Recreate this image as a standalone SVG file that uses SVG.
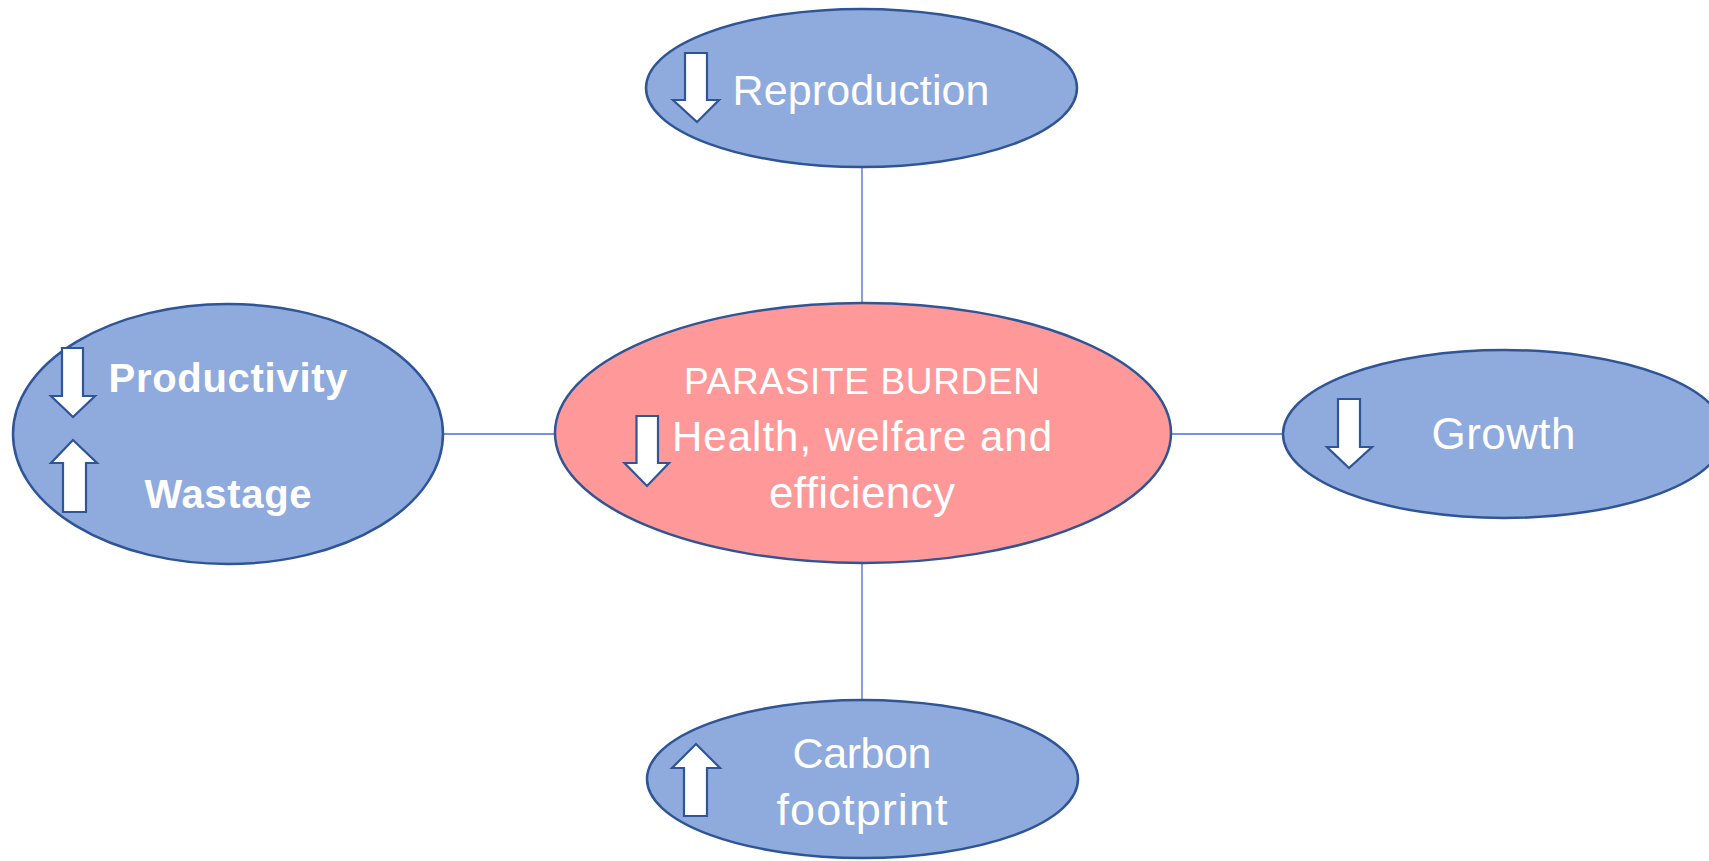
<svg xmlns="http://www.w3.org/2000/svg" width="1709" height="861" viewBox="0 0 1709 861">
  <style>
    .blue { fill: #8FAADC; stroke: #2F5597; stroke-width: 2.5; }
    .pink { fill: #FF9999; stroke: #2F5597; stroke-width: 2.5; }
    .link { stroke: #4472C4; stroke-width: 1.3; fill: none; }
    .arr { fill: #FFFFFF; stroke: #2F5597; stroke-width: 2.2; stroke-linejoin: miter; }
    .lbl { fill: #FFFFFF; font-family: "Liberation Sans", Arial, sans-serif; font-size: 42px; text-anchor: middle; }
    .bold { font-weight: bold; font-size: 40px; }
  </style>
  <rect width="1709" height="861" fill="#FFFFFF"/>

  <!-- connectors -->
  <g id="connectors">
    <line class="link" x1="862" y1="167" x2="862" y2="303"/>
    <line class="link" x1="862" y1="563" x2="862" y2="700"/>
    <line class="link" x1="442" y1="434" x2="555" y2="434"/>
    <line class="link" x1="1171" y1="434" x2="1283" y2="434"/>
  </g>

  <!-- centre node -->
  <g id="parasite-burden">
    <ellipse class="pink" cx="863" cy="433" rx="308" ry="130"/>
    <path class="arr" d="M636.5,416 H658 V463 H669 L647,486 L624.5,463 H636.5 Z"/>
    <text class="lbl" x="862" y="394" style="font-size:37px" textLength="356">PARASITE BURDEN</text>
    <text class="lbl" x="862" y="451" textLength="380">Health, welfare and</text>
    <text class="lbl" x="862" y="508" style="font-size:44px" textLength="186">efficiency</text>
  </g>

  <!-- top node -->
  <g id="reproduction">
    <ellipse class="blue" cx="861.5" cy="88" rx="215.5" ry="79"/>
    <path class="arr" d="M685,53 H707 V100 H719 L697,122 L673,100 H685 Z"/>
    <text class="lbl" x="861" y="105" style="font-size:43px" textLength="257">Reproduction</text>
  </g>

  <!-- left node -->
  <g id="productivity-wastage">
    <ellipse class="blue" cx="228" cy="434" rx="215" ry="130"/>
    <path class="arr" d="M62,348 H83 V396 H95 L73,417 L51,396 H62 Z"/>
    <path class="arr" d="M63,512 H86 V463 H97 L73,440 L51,463 H63 Z"/>
    <text class="lbl bold" x="228" y="392" textLength="239">Productivity</text>
    <text class="lbl bold" x="228" y="508" textLength="167">Wastage</text>
  </g>

  <!-- right node -->
  <g id="growth">
    <ellipse class="blue" cx="1504" cy="434" rx="221" ry="84"/>
    <path class="arr" d="M1338,399 H1360 V447 H1372 L1349,468 L1327,447 H1338 Z"/>
    <text class="lbl" x="1503.5" y="449" style="font-size:44px" textLength="144">Growth</text>
  </g>

  <!-- bottom node -->
  <g id="carbon-footprint">
    <ellipse class="blue" cx="862.5" cy="779" rx="215.5" ry="79"/>
    <path class="arr" d="M684,816 H707 V768 H720 L696,744 L672,768 H684 Z"/>
    <text class="lbl" x="862" y="768" style="font-size:43px" textLength="139">Carbon</text>
    <text class="lbl" x="862" y="825" style="font-size:45px" textLength="171">footprint</text>
  </g>
</svg>
